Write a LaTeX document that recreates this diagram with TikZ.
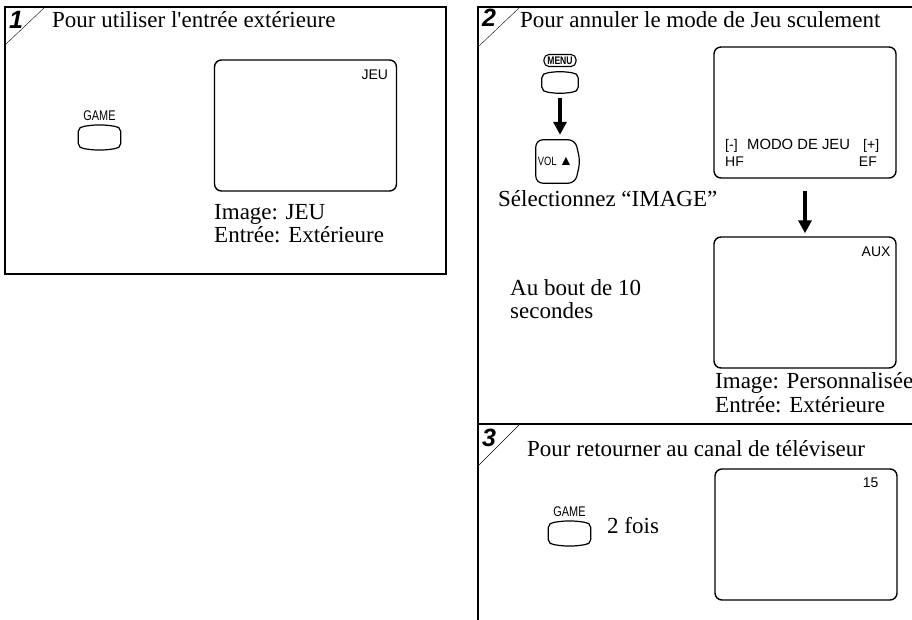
\documentclass[tikz,border=0pt]{standalone}
\usepackage{fontspec}
\setmainfont{Liberation Serif}
\setsansfont{Liberation Sans}
\newfontfamily\narrowsf[FakeStretch=0.78]{Liberation Sans}
\usepackage{tikz}
\usetikzlibrary{arrows.meta,calc,positioning}
\tikzset{%
	panel/.style    = {line width=1.6pt},
	screen/.style   = {draw, line width=1.4pt, rounded corners=7pt, minimum width=182pt, minimum height=131pt, inner sep=0pt},
	osd/.style      = {font=\sffamily\fontsize{14}{14}\selectfont, inner sep=0pt},
	caption/.style  = {font=\fontsize{23}{24}\selectfont, inner sep=0pt, anchor=base west},
	tag/.style      = {font=\sffamily\bfseries\itshape\fontsize{25}{25}\selectfont, inner sep=0pt},
	keylabel/.style = {font=\narrowsf\fontsize{14}{14}\selectfont, inner sep=0pt},
	key/.style      = {minimum width=42pt, minimum height=22pt, inner sep=0pt},
	bigarrow/.style = {line width=3.5pt, -{Triangle[length=13pt,width=13pt]}},
}
\newcommand{\keyshape}[1]{%
	\draw[line width=1.2pt] ([yshift=5pt]#1.south west) -- ([yshift=-5pt]#1.north west) to[out=90,in=180] ([xshift=6pt]#1.north west) to[bend left=9] ([xshift=-6pt]#1.north east) to[out=0,in=90] ([yshift=-5pt]#1.north east) -- ([yshift=5pt]#1.south east) to[out=-90,in=0] ([xshift=-6pt]#1.south east) to[bend left=9] ([xshift=6pt]#1.south west) to[out=180,in=-90] cycle;}

\begin{document}
\begin{tikzpicture}[x=1pt, y=-1pt]
	\useasboundingbox (0,0) rectangle (912,620);
	
	\draw[panel] (5,7) rectangle (446,274);
	\draw (5,45) -- (45,7);
	\node[tag] (tag1) at (16,20) {1};
	\node[caption] (title1) at (52,28) {Pour utiliser l\textquotesingle entrée extérieure};
	\node[key] (game1) at (99.5,137.5) {};
	\keyshape{game1}
	\node[keylabel, above=5pt of game1] (gamelbl1) {GAME};
	\node[screen] (scr1) at (305.5,125.5) {};
	\node[osd, anchor=north east] (jeu) at ($(scr1.north east)+(-9,10)$) {JEU};
	\node[caption] (img1) at (214,220) {Image: JEU};
	\node[caption] (in1) at (214,243) {Entrée: Extérieure};
	
	\draw[panel] (912,7) -- (478,7) -- (478,620);
	\draw[panel] (478,424) -- (912,424);
	\draw (478,47) -- (520,7);
	\node[tag] (tag2) at (489,18) {2};
	\node[caption] (title2) at (520,28) {Pour annuler le mode de Jeu sculement};
	\node[draw, line width=1.1pt, rounded corners=5pt, minimum width=32pt, minimum height=12pt, inner sep=0pt, font=\narrowsf\bfseries\fontsize{11}{11}\selectfont] (menulbl) at (560,60.5) {MENU};
	\node[key, minimum width=36pt, minimum height=19pt] (menukey) at (560,82.5) {};
	\keyshape{menukey}
	\node[minimum width=39pt, minimum height=43pt, inner sep=0pt, font=\narrowsf\fontsize{12}{12}\selectfont] (volkey) at (555.5,161.5) {VOL {\sffamily\fontsize{14}{14}\selectfont ▲}};
	\draw[line width=1.2pt, rounded corners=7pt] (volkey.north west) -- (volkey.north east) -- ([xshift=5pt]volkey.east) -- (volkey.south east) -- (volkey.south west) -- cycle;
	\draw[bigarrow, shorten <=6pt, shorten >=5pt] (menukey.south) -- (menukey.south |- volkey.north);
	\node[caption] (select) at (498,207) {Sélectionnez “IMAGE”};
	\node[screen] (scr2) at (805,112.5) {};
	\node[osd, anchor=base west] (minus) at (725,150) {[-]};
	\node[osd, anchor=base west, font=\sffamily\fontsize{14.8}{15}\selectfont] (modo) at (747,150) {MODO DE JEU};
	\node[osd, anchor=base west] (plus) at (863,150) {[+]};
	\node[osd, anchor=base west] (hf) at (725,167) {HF};
	\node[osd, anchor=base east] (ef) at (877,167) {EF};
	\node[screen] (scr3) at (805,302.5) {};
	\draw[bigarrow, shorten <=12pt, shorten >=3pt] (scr2.south) -- (scr3.north);
	\node[osd, anchor=north east] (aux) at ($(scr3.north east)+(-6,10)$) {AUX};
	\node[caption] (wait1) at (510,295) {Au bout de 10};
	\node[caption] (wait2) at (510,318) {secondes};
	\node[caption] (img2) at (715,388) {Image: Personnalisée};
	\node[caption] (in2) at (715,412) {Entrée: Extérieure};
	
	\draw (478,466) -- (520,424);
	\node[tag] (tag3) at (489,438) {3};
	\node[caption] (title3) at (527,456) {Pour retourner au canal de téléviseur};
	\node[key] (game3) at (569.5,533.5) {};
	\keyshape{game3}
	\node[keylabel, above=5pt of game3] (gamelbl3) {GAME};
	\node[caption] (twice) at (607,533) {2 fois};
	\node[screen] (scr4) at (806,534.5) {};
	\node[osd, anchor=north east] (chan) at ($(scr4.north east)+(-19,9)$) {15};
\end{tikzpicture}
\end{document}
